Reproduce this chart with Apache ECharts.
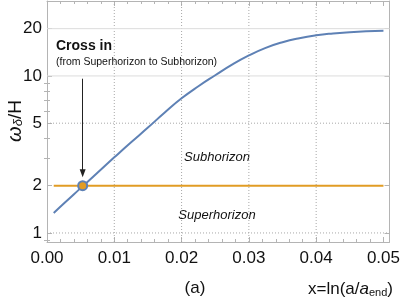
<!DOCTYPE html>
<html><head><meta charset="utf-8">
<script src="https://cdn.jsdelivr.net/npm/echarts@6/dist/echarts.min.js"></script>
<style>html,body{margin:0;padding:0;background:#fff}#c{width:403px;height:300px}</style>
</head><body><div id="c"></div>
<script>
const xs = [0.001, 0.0025, 0.005, 0.0075, 0.01, 0.0125, 0.015, 0.0175, 0.02, 0.0225, 0.025, 0.0275, 0.03, 0.0325, 0.035, 0.0375, 0.04, 0.0425, 0.045, 0.0475, 0.05];
const omega = [1.34, 1.54, 1.93, 2.42, 3.03, 3.78, 4.69, 5.85, 7.2, 8.6, 10.1, 11.8, 13.5, 15.1, 16.4, 17.4, 18.15, 18.65, 19.0, 19.25, 19.4];
const thresholdX = [0.001, 0.05];
const thresholdY = [2, 2];
const crossPoint = [0.0053, 2];
const arrowFrom = [0.0053, 9.6];
const arrowTo = [0.0053, 2.4];
const xMajor = [0, 0.01, 0.02, 0.03, 0.04, 0.05];
const xMinor = [0.002, 0.004, 0.006, 0.008, 0.012, 0.014, 0.016, 0.018, 0.022, 0.024, 0.026, 0.028, 0.032, 0.034, 0.036, 0.038, 0.042, 0.044, 0.046, 0.048];
const xGrid = [0.01, 0.02, 0.03, 0.04];
const yMajor = [1, 2, 5, 10, 20];
const yGrid = [1, 5, 10, 20];
const yMinor = [0.9, 3, 4, 6, 7, 8, 9];

const FONT = 'Liberation Sans';
const FRAME = '#b4b4b4';
const GRID = '#a8a8a8';
const BLUE = '#5E81B5';
const ORANGE = '#E19C24';
const XMIN = 0, XMAX = 0.0509, YMIN = 0.876, YMAX = 30;

function xAx(pos, ticks, len, opts) {
  return Object.assign({
    type: 'value', position: pos, min: XMIN, max: XMAX, gridIndex: 0,
    axisLine: { show: false },
    axisTick: { show: true, inside: true, length: len, customValues: ticks, lineStyle: { color: FRAME, width: 1 } },
    axisLabel: { show: false },
    splitLine: { show: false }
  }, opts || {});
}
function yAx(pos, ticks, len, opts) {
  return Object.assign({
    type: 'log', logBase: 10, position: pos, min: YMIN, max: YMAX, gridIndex: 0,
    axisLine: { show: false },
    axisTick: { show: true, inside: true, length: len, customValues: ticks, lineStyle: { color: FRAME, width: 1 } },
    axisLabel: { show: false },
    splitLine: { show: false }
  }, opts || {});
}
function gridSeries(pts, style) {
  return {
    type: 'line', xAxisIndex: 0, yAxisIndex: 0, z: 1, silent: true,
    data: pts, showSymbol: false, symbol: 'none',
    lineStyle: style
  };
}

const series = [];
xGrid.forEach(v => series.push(gridSeries([[v, YMIN], [v, YMAX]], { color: GRID, width: 1, type: [1, 2] })));
// test: dotted with a tiny slope for 1 and 5; solid light for 10 and 20
series.push(gridSeries([[XMIN, 1], [XMAX, 1.0004]], { color: GRID, width: 1, type: [1, 2] }));
series.push(gridSeries([[XMIN, 5], [XMAX, 5.002]], { color: GRID, width: 1, type: [1, 2] }));
series.push(gridSeries([[XMIN, 10], [XMAX, 10]], { color: '#dcdcdc', width: 1, type: 'solid' }));
series.push(gridSeries([[XMIN, 20], [XMAX, 20]], { color: '#dcdcdc', width: 1, type: 'solid' }));
series.push(
  {
    type: 'line', xAxisIndex: 0, yAxisIndex: 0,
    data: thresholdX.map((x, i) => [x, thresholdY[i]]),
    showSymbol: false, lineStyle: { color: ORANGE, width: 2 }, z: 3
  },
  {
    type: 'line', xAxisIndex: 0, yAxisIndex: 0,
    data: xs.map((x, i) => [x, omega[i]]),
    smooth: true, showSymbol: false, lineStyle: { color: BLUE, width: 2 }, z: 4,
    markLine: {
      silent: true, symbol: ['none', 'triangle'], symbolSize: [6, 8], symbolRotate: 180,
      label: { show: false },
      lineStyle: { color: '#222', width: 1, type: 'solid' },
      data: [[{ coord: arrowFrom }, { coord: arrowTo }]]
    }
  },
  {
    type: 'scatter', xAxisIndex: 0, yAxisIndex: 0,
    data: [crossPoint], symbolSize: 9,
    itemStyle: { color: ORANGE, borderColor: BLUE, borderWidth: 2, opacity: 1 }, z: 5
  }
);

const chart = echarts.init(document.getElementById('c'), null, { renderer: 'canvas' });
chart.setOption({
  animation: false,
  backgroundColor: '#fff',
  grid: { left: 47, right: 10, top: 1, bottom: 58, containLabel: false },
  xAxis: [
    xAx('bottom', xMajor, 5, {
      axisLine: { show: true, onZero: false, lineStyle: { color: FRAME, width: 1 } },
      axisLabel: { show: true, customValues: xMajor, margin: 8, color: '#111', fontFamily: FONT, fontSize: 17,
        formatter: v => v.toFixed(2) }
    }),
    xAx('bottom', xMinor, 3),
    xAx('top', xMajor, 5, { axisLine: { show: true, onZero: false, lineStyle: { color: FRAME, width: 1 } } }),
    xAx('top', xMinor, 3)
  ],
  yAxis: [
    yAx('left', yMajor, 5, {
      axisLine: { show: true, onZero: false, lineStyle: { color: FRAME, width: 1 } },
      axisLabel: { show: true, customValues: yMajor, margin: 5, color: '#111', fontFamily: FONT, fontSize: 17 }
    }),
    yAx('left', yMinor, 3),
    yAx('right', yMajor, 5, { axisLine: { show: true, onZero: false, lineStyle: { color: FRAME, width: 1 } } }),
    yAx('right', yMinor, 3)
  ],
  series: series,
  graphic: [
    { type: 'text', x: 56, y: 46, style: { text: 'Cross in', font: 'bold 14px "Liberation Sans"', fill: '#111', verticalAlign: 'middle' } },
    { type: 'text', x: 56, y: 62, style: { text: '(from Superhorizon to Subhorizon)', font: '10.5px "Liberation Sans"', fill: '#111', verticalAlign: 'middle' } },
    { type: 'text', x: 217, y: 157, style: { text: 'Subhorizon', font: 'italic 13px "Liberation Sans"', fill: '#111', align: 'center', verticalAlign: 'middle' } },
    { type: 'text', x: 217, y: 215, style: { text: 'Superhorizon', font: 'italic 13px "Liberation Sans"', fill: '#111', align: 'center', verticalAlign: 'middle' } },
    { type: 'text', x: 195, y: 288, style: { text: '(a)', font: '17px "Liberation Sans"', fill: '#111', align: 'center', verticalAlign: 'middle' } },
    { type: 'text', x: 393, y: 288, style: {
        text: '{n|x=ln(a/}{i|a}{s|end}{n|)}', align: 'right', verticalAlign: 'middle',
        rich: {
          n: { fontFamily: FONT, fontSize: 17, fill: '#111', lineHeight: 20, verticalAlign: 'bottom' },
          i: { fontFamily: FONT, fontSize: 17, fontStyle: 'italic', fill: '#111', lineHeight: 20, verticalAlign: 'bottom' },
          s: { fontFamily: FONT, fontSize: 11, fill: '#111', lineHeight: 14, verticalAlign: 'bottom' }
        } } },
    { type: 'text', x: 13, y: 121, rotation: Math.PI / 2, style: {
        text: '{a|ω}{s|δ}{n|/H}', align: 'center', verticalAlign: 'middle',
        rich: {
          a: { fontFamily: FONT, fontSize: 20, fontStyle: 'italic', fill: '#111', lineHeight: 24, verticalAlign: 'bottom' },
          s: { fontFamily: FONT, fontSize: 13, fontStyle: 'italic', fill: '#111', lineHeight: 15, verticalAlign: 'bottom' },
          n: { fontFamily: FONT, fontSize: 19, fill: '#111', lineHeight: 24, verticalAlign: 'bottom' }
        } } }
  ]
});
</script></body></html>
